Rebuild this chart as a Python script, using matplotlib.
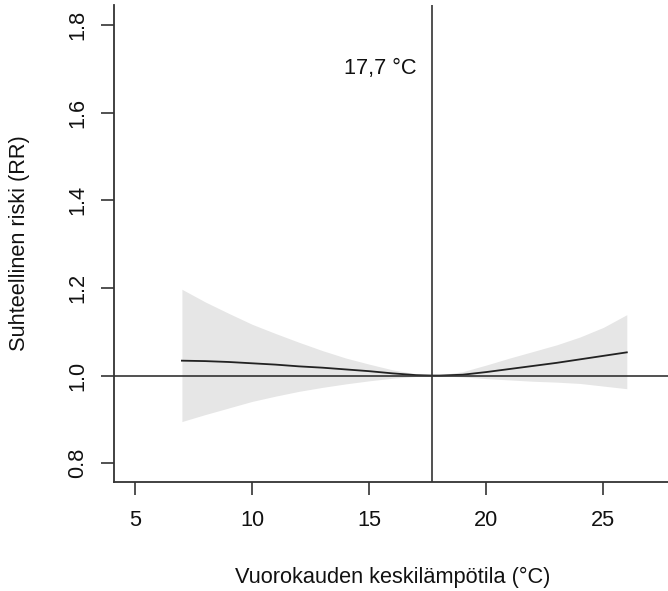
import matplotlib
matplotlib.use("Agg")
import matplotlib.pyplot as plt

# Data
temp = [7, 8, 9, 10, 11, 12, 13, 14, 15, 16, 17, 17.7,
        18, 19, 20, 21, 22, 23, 24, 25, 26]
rr = [1.034, 1.033, 1.031, 1.028, 1.025, 1.021, 1.018, 1.014, 1.010, 1.005, 1.001, 1.0,
      1.000, 1.002, 1.008, 1.015, 1.022, 1.029, 1.037, 1.045, 1.053]
rr_low = [0.895, 0.911, 0.926, 0.941, 0.953, 0.964, 0.973, 0.981, 0.988, 0.994, 0.998, 1.0,
          0.9995, 0.997, 0.993, 0.990, 0.987, 0.985, 0.982, 0.976, 0.970]
rr_high = [1.197, 1.168, 1.142, 1.117, 1.096, 1.076, 1.057, 1.040, 1.026, 1.013, 1.004, 1.0,
           1.001, 1.009, 1.024, 1.040, 1.055, 1.070, 1.088, 1.110, 1.139]
mmt = 17.7
mmt_label = "17,7 °C"
xticks = [5, 10, 15, 20, 25]
yticks = [0.8, 1.0, 1.2, 1.4, 1.6, 1.8]
ytick_labels = ["0.8", "1.0", "1.2", "1.4", "1.6", "1.8"]

plt.rcParams['font.family'] = ['Liberation Sans', 'DejaVu Sans']
W, H = 668, 591
fs = 15.7
fig = plt.figure(figsize=(W / 100, H / 100), dpi=100)
ax = fig.add_axes([114 / W, 1 - 482 / H, 1 - 114 / W, (482 - 5) / H])

dark = '#333333'
ax.fill_between(temp, rr_low, rr_high, color='#e6e6e6', linewidth=0)
ax.plot(temp, rr, color='#222222', lw=1.3)
ax.axhline(1.0, color=dark, lw=1.2)
ax.axvline(mmt, color=dark, lw=1.2)

ax.set_xlim(4.1, 27.76)
ax.set_ylim(0.757, 1.846)

for s in ['top', 'right']:
    ax.spines[s].set_visible(False)
for s in ['left', 'bottom']:
    ax.spines[s].set_color(dark)
    ax.spines[s].set_linewidth(1.3)

ax.set_xticks(xticks)
ax.set_xticklabels([str(t) for t in xticks])
ax.set_yticks(yticks)
ax.set_yticklabels(ytick_labels, rotation=90, va='center')
ax.tick_params(axis='both', direction='out', length=9.5, width=1.2, color=dark,
               labelsize=fs, labelcolor='#111111')
ax.tick_params(axis='x', pad=11)
ax.tick_params(axis='y', pad=9)

ax.text(17.03, 1.70, mmt_label, ha='right', va='center', fontsize=fs, color='#111111')

fig.text(393 / W, 1 - 577 / H, "Vuorokauden keskilämpötila (°C)", ha='center', va='center',
         fontsize=fs, color='#111111')
fig.text(20 / W, 1 - 243 / H, "Suhteellinen riski (RR)", ha='center', va='center',
         rotation=90, fontsize=fs, color='#111111')

fig.savefig("out.png", dpi=100)
